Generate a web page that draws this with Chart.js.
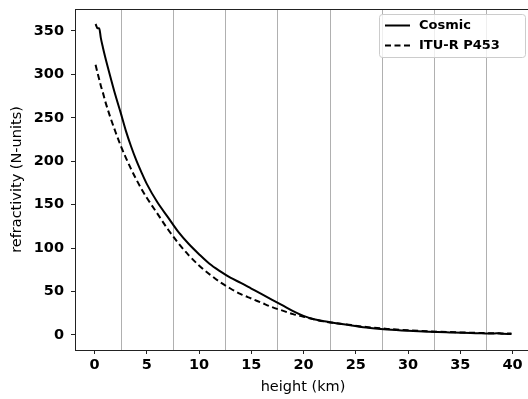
<!DOCTYPE html>
<html lang="en">
<head>
<meta charset="UTF-8" />
<title>Refractivity profile</title>
<script src="https://cdn.jsdelivr.net/npm/chart.js"></script>
<style>
  body { margin: 0; overflow: hidden; background: #fff; }
  canvas { display: block; }
</style>
</head>
<body>
<canvas id="profile" width="540" height="399"></canvas>
<script>
// heights in km, refractivity in N-units
const heights = [0.1, 0.3, 0.45, 0.6, 0.8, 1, 1.5, 2, 2.5, 3, 3.5, 4, 4.5, 5, 6, 7, 8, 9, 10, 11, 12, 13, 14, 15, 16, 17, 18, 19, 20, 21, 22, 24, 26, 28, 30, 32, 34, 36, 37, 38, 38.5, 39, 39.9]
const cosmic = [358, 353, 353, 342, 331, 321, 298, 276, 256, 235, 217, 201, 187, 174, 153, 136, 119, 105, 93, 82, 73.5, 66, 60, 53.5, 47, 40.5, 34, 27.5, 22, 18.2, 15.8, 12, 8.5, 6.3, 4.8, 3.7, 2.9, 2.2, 2.0, 1.6, 1.9, 1.4, 1.2]
const itu = [311, 301, 294, 287, 279, 270, 251, 234, 218, 204, 191, 179, 168, 158, 140, 122, 106, 92, 80, 70, 61, 53.5, 47, 42, 37, 32, 28, 24, 21, 18, 15.5, 12.3, 9.2, 7.0, 5.4, 4.2, 3.3, 2.6, 2.3, 2.0, 1.9, 1.8, 1.6]
const xTicks = [0, 5, 10, 15, 20, 25, 30, 35, 40]
const yTicks = [0, 50, 100, 150, 200, 250, 300, 350]
const gridAt = [2.5, 7.5, 12.5, 17.5, 22.5, 27.5, 32.5, 37.5]

const FONT = "'DejaVu Sans', sans-serif"

const pts = vals => heights.map((h, i) => ({ x: h, y: vals[i] }))

// vertical guide lines between the labelled ticks, plus the top/right frame
const gridPlugin = {
  id: 'halfGrid',
  beforeDatasetsDraw(chart) {
    const { ctx, chartArea: a, scales: { x } } = chart
    ctx.save()
    ctx.strokeStyle = '#b0b0b0'
    ctx.lineWidth = 1
    gridAt.forEach(v => {
      const px = Math.round(x.getPixelForValue(v)) + 0.5
      ctx.beginPath()
      ctx.moveTo(px, a.top)
      ctx.lineTo(px, a.bottom)
      ctx.stroke()
    })
    ctx.strokeStyle = '#222'
    ctx.beginPath()
    ctx.moveTo(a.left, a.top + 0.5)
    ctx.lineTo(a.right, a.top + 0.5)
    ctx.lineTo(a.right, a.bottom)
    ctx.stroke()
    ctx.restore()
  }
}

// matplotlib-style legend box in the upper right corner
const legendPlugin = {
  id: 'boxLegend',
  afterDatasetsDraw(chart) {
    const { ctx } = chart
    const bx = 379.5, by = 14.5, bw = 146, bh = 43
    ctx.save()
    ctx.beginPath()
    ctx.roundRect(bx, by, bw, bh, 3)
    ctx.fillStyle = 'rgba(255,255,255,0.8)'
    ctx.fill()
    ctx.strokeStyle = '#cccccc'
    ctx.lineWidth = 1
    ctx.stroke()
    ctx.font = 'bold 13px ' + FONT
    ctx.textBaseline = 'middle'
    chart.data.datasets.forEach((ds, i) => {
      const y = by + 11 + i * 20
      ctx.strokeStyle = ds.borderColor
      ctx.lineWidth = ds.borderWidth
      ctx.setLineDash(ds.borderDash || [])
      ctx.beginPath()
      ctx.moveTo(385, y)
      ctx.lineTo(410, y)
      ctx.stroke()
      ctx.setLineDash([])
      ctx.fillStyle = '#000'
      ctx.fillText(ds.label, 419, y)
    })
    ctx.restore()
  }
}

new Chart(document.getElementById('profile'), {
  type: 'line',
  data: {
    datasets: [
      {
        label: 'Cosmic',
        data: pts(cosmic),
        borderColor: '#000',
        borderWidth: 2,
        pointRadius: 0,
        cubicInterpolationMode: 'monotone'
      },
      {
        label: 'ITU-R P453',
        data: pts(itu),
        borderColor: '#000',
        borderWidth: 2,
        borderDash: [6, 3.5],
        pointRadius: 0,
        cubicInterpolationMode: 'monotone'
      }
    ]
  },
  options: {
    responsive: false,
    animation: false,
    layout: { padding: { top: 9, right: 9, left: 0, bottom: 0 } },
    plugins: { legend: { display: false }, tooltip: { enabled: false } },
    scales: {
      x: {
        type: 'linear',
        min: -1.87,
        max: 41.77,
        afterBuildTicks: s => { s.ticks = xTicks.map(v => ({ value: v })) },
        afterFit: s => { s.height = 49; s.paddingLeft = 0; s.paddingRight = 0 },
        border: { display: true, color: '#222', width: 1 },
        grid: { drawOnChartArea: false, drawTicks: true, tickLength: 4, tickColor: '#222' },
        ticks: { color: '#000', padding: 3, font: { family: FONT, size: 14.5, weight: 'bold' } },
        title: { display: true, text: 'height (km)', color: '#000', padding: { top: 0, bottom: 3 }, font: { family: FONT, size: 14.5 } }
      },
      y: {
        type: 'linear',
        min: -17.3,
        max: 375.3,
        afterBuildTicks: s => { s.ticks = yTicks.map(v => ({ value: v })) },
        afterFit: s => { s.width = 75; s.paddingTop = 0; s.paddingBottom = 0 },
        border: { display: true, color: '#222', width: 1 },
        grid: { drawOnChartArea: false, drawTicks: true, tickLength: 4, tickColor: '#222' },
        ticks: { color: '#000', padding: 7, font: { family: FONT, size: 14.5, weight: 'bold' } },
        title: { display: true, text: 'refractivity (N-units)', color: '#000', padding: { top: 9, bottom: 0 }, font: { family: FONT, size: 14.5 } }
      }
    }
  },
  plugins: [gridPlugin, legendPlugin]
})
</script>
</body>
</html>
